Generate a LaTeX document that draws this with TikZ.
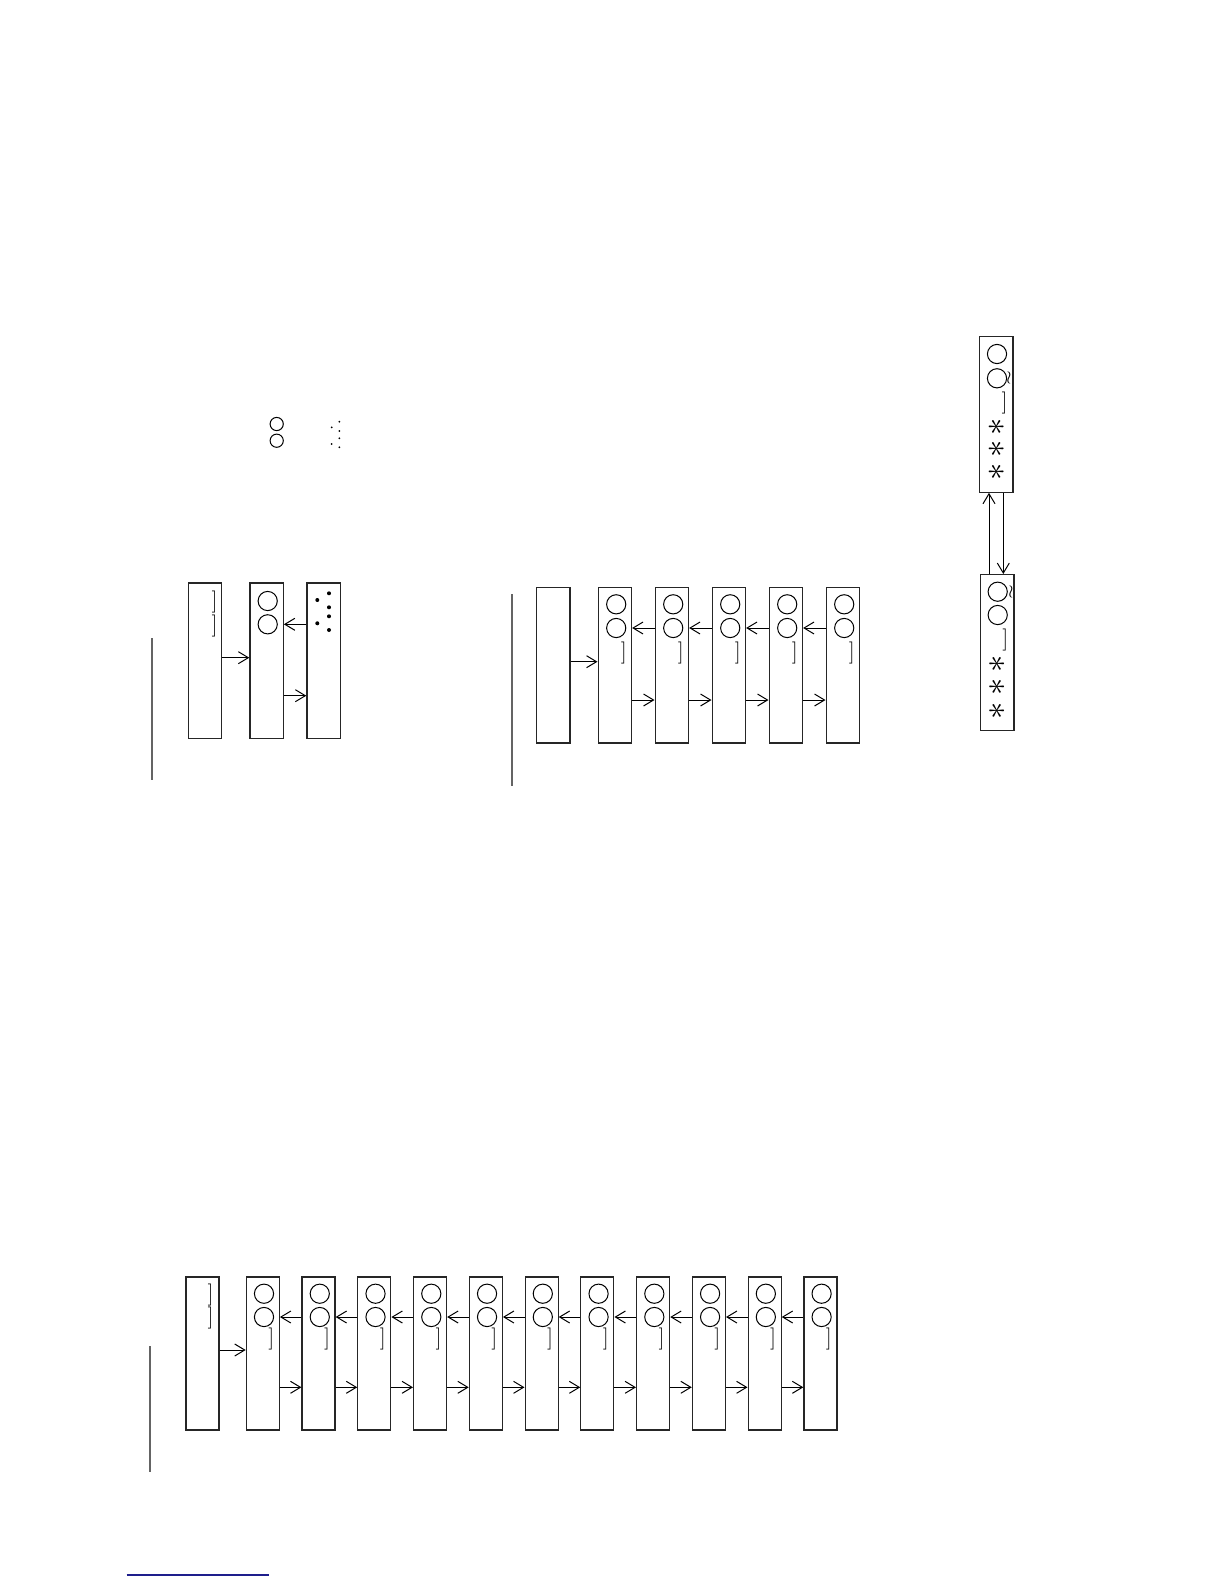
\documentclass[tikz,border=0pt]{standalone}
\usetikzlibrary{arrows.meta}
\definecolor{sepgray}{RGB}{100,100,100}
\definecolor{navyline}{RGB}{30,30,140}
\begin{document}
\begin{tikzpicture}[x=0.5pt,y=-0.5pt,
  box/.style={draw=black!85, line width=0.6pt, minimum width=16.7pt, minimum height=77.8pt, inner sep=0pt, anchor=north west},
  circ/.style={draw, circle, minimum size=9.6pt, inner sep=0pt, line width=0.5pt},
  smallcirc/.style={draw, circle, minimum size=6.6pt, inner sep=0pt, line width=0.5pt},
  brk/.style={inner sep=0pt, font=\fontsize{11}{11}\selectfont},
  astk/.style={inner sep=0pt, rotate=90, font=\fontsize{19}{19}\selectfont},
  wrs/.style={inner sep=0pt, font=\fontsize{9}{9}\selectfont},
  dot/.style={circle, fill, inner sep=0pt, minimum size=2pt},
  tinydot/.style={circle, fill, inner sep=0pt, minimum size=1pt},
  arr/.style={-{Straight Barb[length=5pt,width=6pt]}, line width=0.5pt},
  sep/.style={draw=sepgray, line width=1pt},
]
\fill[white] (0,0) rectangle (1224,1584);
\useasboundingbox (0,0) rectangle (1224,1584);

% ---------- legend (top left) ----------
\node[smallcirc] (lc1) at (276.7,424) {};
\node[smallcirc] (lc2) at (276.7,440.7) {};
\node[tinydot] (ld1) at (331.7,427.3) {};
\node[tinydot] (ld2) at (339.3,421.7) {};
\node[tinydot] (ld3) at (339.3,431) {};
\node[tinydot] (ld4) at (339.3,438.3) {};
\node[tinydot] (ld5) at (331.7,444) {};
\node[tinydot] (ld6) at (339.3,447.3) {};

% ---------- top-left diagram ----------
\coordinate (s1a) at (152.3,638);
\coordinate (s1b) at (152.3,780);
\draw[sep] (s1a) -- (s1b);
\node[box] (A) at (187.7,582.3) {};
\node[box] (B) at (249.3,582.3) {};
\node[box] (C) at (306.3,582.3) {};
\node[brk] (Ak1) at (214.5,602.3) {]};
\node[brk] (Ak2) at (214.5,625.7) {]};
\node[circ] (Ba) at (267.7,601) {};
\node[circ] (Bb) at (267.7,624.3) {};
\node[dot] (Cd1) at (317.3,600) {};
\node[dot] (Cd2) at (329,593.3) {};
\node[dot] (Cd3) at (329,607.3) {};
\node[dot] (Cd4) at (329,616.3) {};
\node[dot] (Cd5) at (317.3,623.3) {};
\node[dot] (Cd6) at (329,630) {};
\coordinate (yA1) at (0,657.7);
\coordinate (yA2) at (0,695.7);
\draw[arr] (A.east |- yA1) -- (B.west |- yA1);
\draw[arr] (C.west |- Bb) -- (B.east |- Bb);
\draw[arr] (B.east |- yA2) -- (C.west |- yA2);

% ---------- middle diagram ----------
\coordinate (s2a) at (511.5,594);
\coordinate (s2b) at (511.5,786);
\draw[sep] (s2a) -- (s2b);
\node[box] (m0) at (536,586.7) {};
\foreach \i in {1,...,5}{
  \pgfmathsetmacro\L{597.5+57*(\i-1)}
  \node[box] (m\i) at (\L,586.7) {};
  \node[circ] (m\i a) at (\L+18.7,604.3) {};
  \node[circ] (m\i b) at (\L+18.7,628) {};
  \node[brk] (m\i k) at (\L+26.3,652.7) {]};
}
\coordinate (ym0) at (0,661.7);
\coordinate (ym1) at (0,700);
\draw[arr] (m0.east |- ym0) -- (m1.west |- ym0);
\foreach \i in {1,...,4}{
  \pgfmathtruncatemacro\j{\i+1}
  \draw[arr] (m\j.west |- m\i b) -- (m\i.east |- m\i b);
  \draw[arr] (m\i.east |- ym1) -- (m\j.west |- ym1);
}

% ---------- right diagram ----------
\node[box] (T) at (979,336) {};
\node[box] (U) at (980,574) {};
\node[circ] (Ta) at (997,354) {};
\node[circ] (Tb) at (997,378.3) {};
\node[wrs] (Tw) at (1009,378) {$\wr$};
\node[brk] (Tk) at (1004.5,402.7) {]};
\node[astk] (Ts1) at (996.7,426.7) {$\ast$};
\node[astk] (Ts2) at (996.7,448.8) {$\ast$};
\node[astk] (Ts3) at (996.7,472.3) {$\ast$};
\node[circ] (Ua) at (997.7,591.7) {};
\node[circ] (Ub) at (997.7,615) {};
\node[wrs] (Uw) at (1011,591.7) {$\wr$};
\node[brk] (Uk) at (1005.3,640) {]};
\node[astk] (Us1) at (997.3,664) {$\ast$};
\node[astk] (Us2) at (997.3,686.7) {$\ast$};
\node[astk] (Us3) at (997.3,710.7) {$\ast$};
\coordinate (xup) at (989,0);
\coordinate (xdn) at (1003.3,0);
\draw[arr] (U.north -| xup) -- (T.south -| xup);
\draw[arr] (T.south -| xdn) -- (U.north -| xdn);

% ---------- bottom diagram ----------
\coordinate (s3a) at (150,1346);
\coordinate (s3b) at (150,1472);
\draw[sep] (s3a) -- (s3b);
\node[box, minimum width=16.5pt, minimum height=76.5pt] (b0) at (185.3,1276.3) {};
\node[brk] (b0k1) at (210.5,1295) {]};
\node[brk] (b0k2) at (210.5,1318.3) {]};
\foreach \i in {1,...,11}{
  \pgfmathsetmacro\L{245.7+55.76*(\i-1)}
  \node[box, minimum width=16.5pt, minimum height=76.5pt] (b\i) at (\L,1276.3) {};
  \node[circ] (b\i a) at (\L+18.3,1293.7) {};
  \node[circ] (b\i b) at (\L+18.3,1317) {};
  \node[brk] (b\i k) at (\L+25.6,1339.3) {]};
}
\coordinate (yb0) at (0,1350);
\coordinate (yb1) at (0,1387.3);
\draw[arr] (b0.east |- yb0) -- (b1.west |- yb0);
\foreach \i in {1,...,10}{
  \pgfmathtruncatemacro\j{\i+1}
  \draw[arr] (b\j.west |- b\i b) -- (b\i.east |- b\i b);
  \draw[arr] (b\i.east |- yb1) -- (b\j.west |- yb1);
}

% ---------- footnote rule ----------
\coordinate (fl1) at (126.7,1574.7);
\coordinate (fl2) at (269,1574.7);
\draw[navyline, line width=0.8pt] (fl1) -- (fl2);
\end{tikzpicture}
\end{document}
